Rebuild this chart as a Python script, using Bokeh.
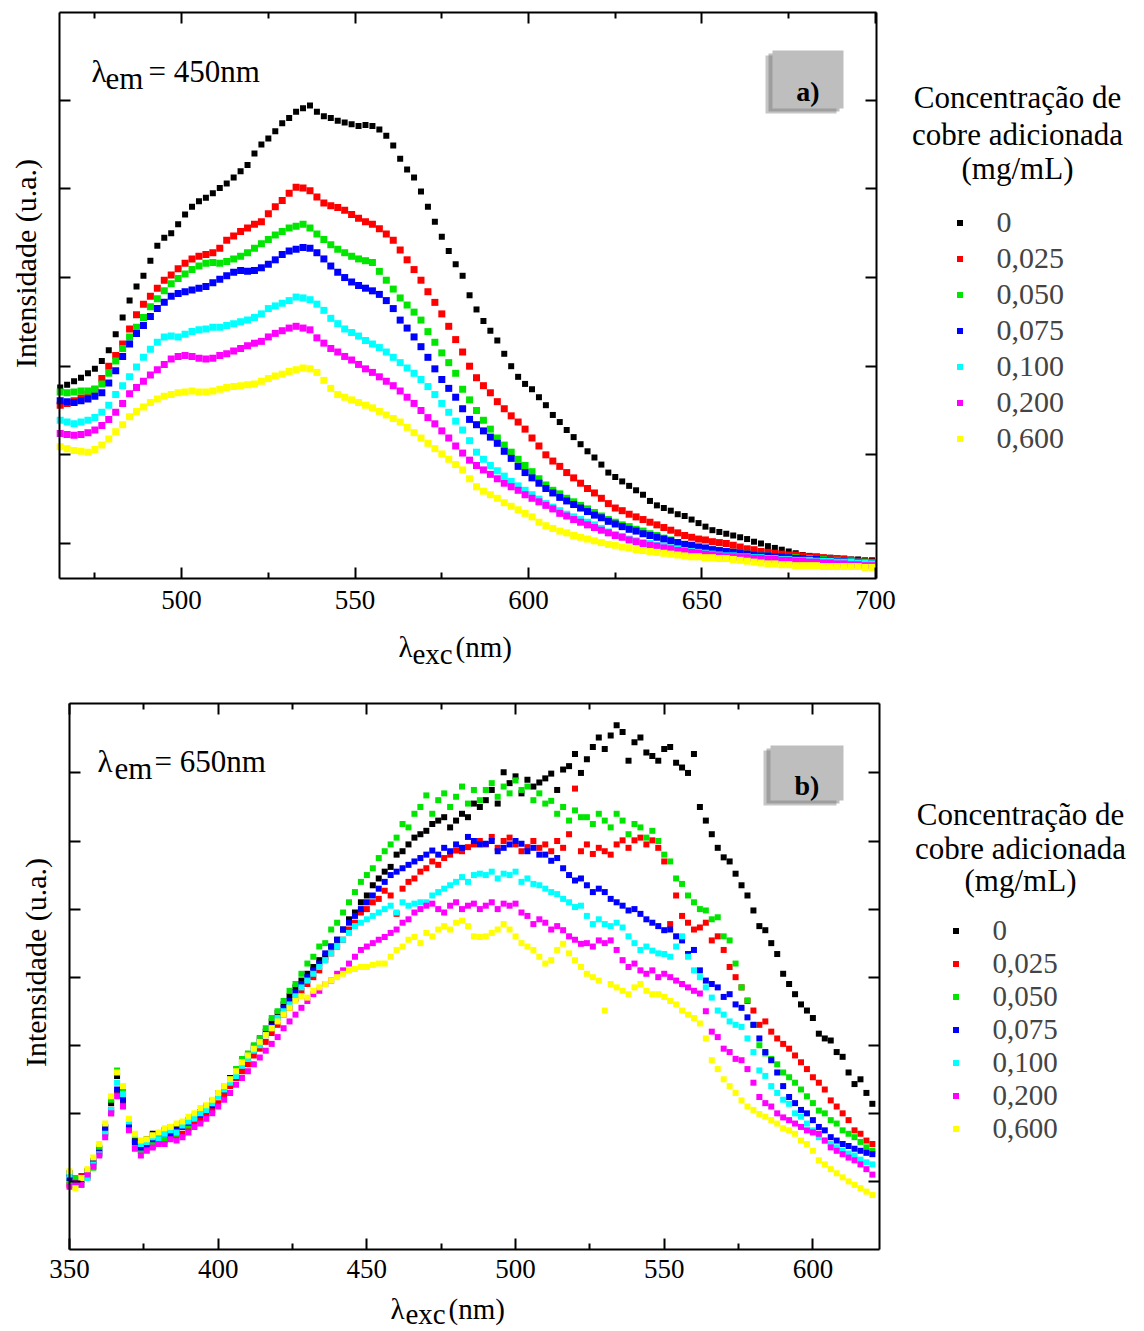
from bokeh.plotting import figure
from bokeh.models import Range1d, LinearAxis, FixedTicker, Label, BoxAnnotation, Legend, LegendItem
from bokeh.layouts import column
from bokeh.embed import file_html
from bokeh.resources import INLINE

FONT = "Liberation Serif"

SERIES_LABELS = ["0", "0,025", "0,050", "0,075", "0,100", "0,200", "0,600"]
COLORS = ["#000000", "#ff0000", "#00e600", "#0000ff", "#00ffff", "#ff00ff", "#ffff00"]

# ---------------- Panel a: lambda_em = 450 nm ----------------
WL_A = list(range(465, 700, 2))
A_0 = [1.76,1.79,1.83,1.87,1.92,1.97,2.06,2.18,2.36,2.55,
       2.74,2.90,3.02,3.19,3.36,3.45,3.50,3.60,3.71,3.80,
       3.86,3.90,3.95,4.01,4.06,4.13,4.20,4.27,4.40,4.50,
       4.57,4.65,4.74,4.80,4.87,4.91,4.94,4.87,4.82,4.80,
       4.77,4.75,4.73,4.71,4.72,4.71,4.67,4.60,4.49,4.34,
       4.22,4.13,3.97,3.80,3.63,3.46,3.30,3.15,3.02,2.80,
       2.64,2.51,2.40,2.29,2.14,2.00,1.88,1.80,1.74,1.65,
       1.56,1.45,1.37,1.28,1.20,1.12,1.04,0.97,0.89,0.80,
       0.75,0.70,0.65,0.60,0.55,0.48,0.43,0.40,0.37,0.33,
       0.31,0.27,0.23,0.19,0.15,0.13,0.11,0.09,0.07,0.05,
       0.02,0.00,-0.03,-0.05,-0.07,-0.09,-0.11,-0.13,-0.14,-0.15,
       -0.16,-0.16,-0.17,-0.17,-0.18,-0.18,-0.19,-0.19]
A_025 = [1.56,1.58,1.61,1.64,1.68,1.74,1.86,2.00,2.12,2.25,
         2.42,2.58,2.70,2.79,2.88,2.97,3.03,3.10,3.16,3.21,
         3.24,3.26,3.28,3.33,3.42,3.47,3.52,3.56,3.60,3.63,
         3.72,3.80,3.87,3.95,4.02,4.01,3.98,3.91,3.84,3.81,
         3.79,3.76,3.71,3.67,3.63,3.60,3.55,3.49,3.42,3.31,
         3.20,3.09,2.97,2.84,2.72,2.59,2.45,2.30,2.16,2.00,
         1.87,1.78,1.70,1.60,1.52,1.44,1.37,1.29,1.19,1.10,
         1.00,0.93,0.87,0.80,0.74,0.68,0.62,0.57,0.51,0.45,
         0.40,0.37,0.33,0.30,0.27,0.24,0.21,0.18,0.15,0.12,
         0.09,0.07,0.05,0.04,0.02,0.01,0.00,-0.02,-0.04,-0.06,
         -0.07,-0.09,-0.10,-0.11,-0.12,-0.13,-0.13,-0.14,-0.15,-0.15,
         -0.16,-0.17,-0.17,-0.18,-0.19,-0.20,-0.21,-0.21]
A_050 = [1.71,1.70,1.71,1.72,1.72,1.74,1.80,1.92,2.06,2.20,
         2.33,2.44,2.55,2.67,2.76,2.85,2.93,2.99,3.04,3.09,
         3.13,3.16,3.17,3.16,3.18,3.21,3.24,3.28,3.33,3.38,
         3.43,3.48,3.52,3.56,3.58,3.60,3.56,3.49,3.43,3.37,
         3.32,3.28,3.24,3.21,3.19,3.17,3.07,2.97,2.87,2.77,
         2.69,2.61,2.52,2.39,2.27,2.15,2.04,1.92,1.74,1.62,
         1.50,1.39,1.29,1.19,1.11,1.03,0.95,0.88,0.81,0.73,
         0.66,0.60,0.56,0.51,0.47,0.43,0.39,0.35,0.31,0.27,
         0.24,0.21,0.19,0.16,0.14,0.11,0.09,0.06,0.04,0.01,
         -0.01,-0.03,-0.04,-0.06,-0.07,-0.08,-0.09,-0.10,-0.11,-0.12,
         -0.13,-0.14,-0.14,-0.15,-0.15,-0.16,-0.16,-0.17,-0.17,-0.18,
         -0.18,-0.19,-0.19,-0.20,-0.20,-0.21,-0.21,-0.22]
A_075 = [1.61,1.60,1.59,1.61,1.63,1.66,1.70,1.81,1.95,2.11,
         2.25,2.37,2.46,2.56,2.65,2.72,2.79,2.82,2.84,2.86,
         2.88,2.90,2.94,2.98,3.02,3.06,3.08,3.07,3.08,3.11,
         3.15,3.20,3.26,3.30,3.32,3.34,3.33,3.28,3.21,3.13,
         3.06,3.00,2.95,2.91,2.88,2.85,2.81,2.74,2.65,2.52,
         2.43,2.33,2.22,2.10,1.97,1.85,1.75,1.65,1.52,1.40,
         1.34,1.27,1.20,1.13,1.04,0.96,0.87,0.80,0.74,0.68,
         0.62,0.57,0.52,0.48,0.44,0.40,0.36,0.32,0.29,0.25,
         0.22,0.19,0.16,0.14,0.11,0.09,0.07,0.05,0.03,0.01,
         -0.01,-0.02,-0.04,-0.05,-0.07,-0.08,-0.09,-0.10,-0.11,-0.12,
         -0.13,-0.14,-0.14,-0.15,-0.15,-0.16,-0.17,-0.17,-0.18,-0.18,
         -0.19,-0.19,-0.20,-0.20,-0.21,-0.21,-0.22,-0.23]
A_100 = [1.39,1.37,1.35,1.37,1.39,1.42,1.48,1.56,1.68,1.78,
         1.88,1.99,2.10,2.19,2.27,2.33,2.34,2.33,2.36,2.39,
         2.41,2.42,2.44,2.44,2.46,2.48,2.50,2.52,2.55,2.59,
         2.65,2.68,2.71,2.74,2.78,2.77,2.75,2.70,2.63,2.54,
         2.48,2.42,2.38,2.34,2.29,2.25,2.21,2.16,2.10,2.04,
         1.98,1.92,1.85,1.77,1.68,1.58,1.48,1.38,1.28,1.16,
         1.03,0.95,0.88,0.82,0.76,0.70,0.65,0.60,0.55,0.50,
         0.45,0.41,0.37,0.33,0.30,0.27,0.24,0.21,0.17,0.13,
         0.10,0.08,0.05,0.03,0.01,0.00,-0.02,-0.03,-0.05,-0.06,
         -0.08,-0.09,-0.10,-0.11,-0.12,-0.13,-0.14,-0.14,-0.15,-0.15,
         -0.16,-0.16,-0.17,-0.17,-0.18,-0.18,-0.19,-0.19,-0.19,-0.20,
         -0.20,-0.20,-0.21,-0.21,-0.21,-0.22,-0.22,-0.23]
A_200 = [1.24,1.23,1.22,1.23,1.25,1.28,1.33,1.40,1.48,1.58,
         1.69,1.76,1.83,1.90,1.96,2.02,2.08,2.11,2.12,2.11,
         2.09,2.08,2.09,2.12,2.14,2.17,2.20,2.23,2.26,2.28,
         2.33,2.37,2.40,2.43,2.45,2.43,2.41,2.32,2.26,2.20,
         2.16,2.11,2.07,2.02,1.97,1.93,1.88,1.83,1.78,1.72,
         1.65,1.58,1.50,1.42,1.35,1.27,1.19,1.10,1.02,0.94,
         0.88,0.83,0.78,0.73,0.68,0.64,0.60,0.55,0.51,0.47,
         0.43,0.39,0.34,0.31,0.27,0.24,0.21,0.18,0.15,0.12,
         0.09,0.07,0.04,0.02,0.00,-0.02,-0.03,-0.05,-0.06,-0.08,
         -0.09,-0.10,-0.11,-0.12,-0.13,-0.14,-0.15,-0.15,-0.16,-0.16,
         -0.17,-0.17,-0.18,-0.18,-0.19,-0.19,-0.20,-0.20,-0.21,-0.21,
         -0.22,-0.22,-0.23,-0.23,-0.24,-0.24,-0.25,-0.25]
A_600 = [1.09,1.07,1.05,1.04,1.03,1.06,1.11,1.18,1.26,1.34,
         1.43,1.49,1.54,1.59,1.63,1.66,1.68,1.70,1.71,1.72,
         1.71,1.71,1.72,1.74,1.76,1.77,1.78,1.79,1.80,1.83,
         1.86,1.89,1.91,1.94,1.96,1.98,1.97,1.93,1.84,1.75,
         1.68,1.65,1.62,1.59,1.56,1.53,1.49,1.45,1.41,1.37,
         1.31,1.25,1.19,1.13,1.07,1.01,0.95,0.89,0.83,0.73,
         0.64,0.59,0.55,0.51,0.46,0.42,0.38,0.34,0.30,0.24,
         0.20,0.17,0.14,0.12,0.09,0.07,0.05,0.03,0.01,-0.01,
         -0.02,-0.04,-0.05,-0.07,-0.08,-0.09,-0.10,-0.11,-0.12,-0.13,
         -0.14,-0.15,-0.15,-0.16,-0.16,-0.17,-0.17,-0.18,-0.19,-0.20,
         -0.21,-0.22,-0.23,-0.23,-0.24,-0.24,-0.25,-0.25,-0.25,-0.25,
         -0.26,-0.26,-0.26,-0.26,-0.26,-0.26,-0.27,-0.27]
SERIES_A = [A_0, A_025, A_050, A_075, A_100, A_200, A_600]

# ---------------- Panel b: lambda_em = 650 nm ----------------
WL_B = list(range(350, 621, 2))
B_0 = [0.12,0.02,0.05,0.15,0.30,0.48,0.80,1.15,1.55,1.30,
       0.90,0.60,0.55,0.62,0.70,0.68,0.75,0.72,0.80,0.85,
       0.90,0.95,1.02,1.10,1.18,1.30,1.38,1.52,1.62,1.78,
       1.85,1.98,2.10,2.20,2.35,2.48,2.60,2.72,2.85,2.95,
       3.05,3.15,3.25,3.30,3.45,3.55,3.70,3.85,3.95,4.10,
       4.20,4.35,4.45,4.55,4.62,4.80,4.85,4.95,5.05,5.10,
       5.15,5.25,5.30,5.35,5.20,5.30,5.40,5.35,5.55,5.50,
       5.60,5.75,5.55,6.01,5.85,5.95,5.70,5.90,5.80,5.86,
       5.92,5.99,5.75,6.05,6.10,6.28,6.00,6.20,6.38,6.52,
       6.35,6.55,6.70,6.60,6.18,6.45,6.52,6.30,6.25,6.18,
       6.35,6.38,6.15,6.08,6.00,6.28,5.50,5.30,5.10,4.90,
       4.76,4.70,4.52,4.35,4.20,3.98,3.75,3.69,3.50,3.34,
       3.05,2.90,2.75,2.60,2.51,2.40,2.17,2.10,2.07,1.90,
       1.83,1.60,1.43,1.50,1.30,1.14]
B_025 = [-0.05,0.00,0.08,0.05,0.22,0.40,0.72,1.00,1.30,1.15,
         0.78,0.50,0.45,0.50,0.52,0.58,0.60,0.65,0.68,0.70,
         0.78,0.85,0.90,1.00,1.05,1.15,1.28,1.40,1.52,1.62,
         1.72,1.85,1.95,2.05,2.18,2.30,2.45,2.55,2.68,2.80,
         2.90,3.00,3.10,3.25,3.35,3.45,3.55,3.70,3.80,3.95,
         4.00,4.10,4.15,4.27,4.20,3.93,4.30,4.40,4.45,4.55,
         4.60,4.70,4.65,4.75,4.80,4.86,4.85,4.91,4.95,5.00,
         4.95,5.06,4.90,5.00,5.05,4.95,4.85,4.91,5.00,4.90,
         4.95,4.85,5.00,4.90,5.10,5.77,4.85,4.95,4.81,4.90,
         4.85,4.80,4.95,5.01,4.90,5.01,5.05,4.95,5.01,4.90,
         4.70,3.78,4.20,3.90,3.80,3.70,3.73,3.80,3.54,3.60,
         3.40,3.15,3.00,2.85,2.65,2.51,2.30,2.35,2.20,2.10,
         2.02,1.95,1.85,1.75,1.65,1.53,1.45,1.35,1.19,1.10,
         1.00,0.90,0.75,0.70,0.60,0.55]
B_050 = [0.00,0.05,-0.05,0.12,0.20,0.50,0.70,1.20,1.63,1.35,
         0.80,0.55,0.45,0.60,0.55,0.70,0.62,0.80,0.70,0.85,
         0.82,0.95,1.00,1.10,1.15,1.28,1.40,1.50,1.65,1.80,
         1.88,2.00,2.10,2.25,2.40,2.50,2.65,2.80,2.90,3.05,
         3.20,3.30,3.45,3.50,3.70,3.80,3.95,4.10,4.25,4.40,
         4.50,4.60,4.75,4.85,4.95,5.05,5.25,5.20,5.40,5.50,
         5.67,5.40,5.60,5.70,5.50,5.65,5.80,5.55,5.75,5.60,
         5.75,5.85,5.65,5.80,5.70,5.89,5.75,5.80,5.60,5.70,
         5.55,5.59,5.40,5.50,5.30,5.45,5.35,5.35,5.25,5.40,
         5.30,5.20,5.40,5.30,5.10,5.25,5.20,5.05,5.15,5.00,
         4.80,4.70,4.45,4.37,4.20,4.10,4.00,3.98,3.85,3.88,
         3.60,3.54,3.20,2.85,2.66,2.30,2.00,1.88,1.80,1.72,
         1.60,1.53,1.45,1.35,1.25,1.15,1.04,1.00,0.90,0.85,
         0.75,0.70,0.65,0.58,0.50,0.45]
B_075 = [0.05,-0.05,0.02,0.08,0.28,0.42,0.78,1.05,1.35,1.20,
         0.82,0.58,0.50,0.55,0.62,0.60,0.70,0.68,0.75,0.80,
         0.86,0.92,0.98,1.08,1.12,1.25,1.35,1.48,1.60,1.72,
         1.82,1.92,2.05,2.15,2.28,2.40,2.55,2.65,2.78,2.90,
         3.00,3.10,3.20,3.35,3.45,3.55,3.70,3.80,3.90,4.00,
         4.10,4.20,4.30,4.40,4.50,4.55,4.60,4.65,4.70,4.75,
         4.80,4.86,4.80,4.90,4.85,4.95,4.90,5.06,5.00,4.95,
         4.96,5.00,4.85,4.90,4.95,5.00,4.96,4.85,4.90,4.80,
         4.80,4.71,4.75,4.60,4.50,4.42,4.45,4.35,4.25,4.30,
         4.25,4.15,4.10,4.05,3.98,4.00,3.93,3.85,3.80,3.75,
         3.69,3.70,3.60,3.54,3.34,3.40,3.10,2.95,2.90,2.85,
         2.71,2.75,2.60,2.55,2.41,2.30,2.10,1.90,1.78,1.60,
         1.40,1.24,1.15,1.05,1.00,0.90,0.80,0.75,0.65,0.60,
         0.55,0.52,0.48,0.45,0.42,0.40]
B_100 = [0.10,-0.05,0.05,0.05,0.25,0.40,0.70,1.05,1.45,1.28,
         0.88,0.68,0.55,0.58,0.65,0.62,0.70,0.75,0.72,0.82,
         0.88,0.92,1.00,1.05,1.15,1.25,1.35,1.45,1.55,1.70,
         1.80,1.92,2.00,2.15,2.25,2.40,2.50,2.60,2.72,2.85,
         2.95,3.05,3.15,3.25,3.35,3.45,3.55,3.65,3.75,3.80,
         3.85,3.90,3.95,4.00,4.05,3.95,4.10,4.05,4.08,4.10,
         4.10,4.20,4.25,4.30,4.35,4.40,4.47,4.40,4.50,4.52,
         4.50,4.55,4.45,4.52,4.50,4.55,4.40,4.45,4.37,4.35,
         4.30,4.25,4.22,4.15,4.10,4.03,4.05,3.90,3.78,3.85,
         3.78,3.75,3.80,3.73,3.60,3.50,3.40,3.45,3.39,3.35,
         3.34,3.30,3.45,3.60,3.30,3.10,3.00,2.85,2.70,2.51,
         2.45,2.35,2.30,2.27,2.10,1.90,1.63,1.55,1.40,1.30,
         1.20,1.14,1.00,0.95,0.85,0.75,0.65,0.60,0.55,0.50,
         0.45,0.41,0.38,0.32,0.28,0.25]
B_200 = [-0.08,-0.02,-0.05,0.10,0.22,0.38,0.65,1.00,1.25,1.10,
         0.75,0.48,0.38,0.45,0.50,0.55,0.55,0.62,0.60,0.65,
         0.72,0.80,0.85,0.92,1.00,1.10,1.20,1.30,1.42,1.52,
         1.62,1.72,1.82,1.92,2.02,2.12,2.25,2.35,2.45,2.55,
         2.65,2.75,2.80,2.90,2.95,3.05,3.10,3.20,3.30,3.40,
         3.45,3.50,3.55,3.59,3.65,3.70,3.80,3.85,3.95,4.00,
         4.05,4.08,4.00,3.95,4.05,4.10,4.00,4.05,4.08,4.00,
         4.05,4.10,4.00,4.08,4.05,4.08,3.95,3.90,3.78,3.85,
         3.80,3.70,3.75,3.69,3.60,3.55,3.49,3.50,3.45,3.54,
         3.50,3.54,3.40,3.25,3.15,3.20,3.10,3.05,3.10,3.00,
         3.05,3.00,2.95,2.90,2.85,2.80,2.76,2.50,2.20,2.12,
         1.95,1.90,1.80,1.78,1.65,1.45,1.24,1.15,1.10,1.00,
         0.94,0.90,0.85,0.80,0.75,0.72,0.70,0.60,0.50,0.45,
         0.40,0.35,0.31,0.25,0.18,0.10]
B_600 = [0.15,-0.10,0.05,0.18,0.35,0.55,0.85,1.25,1.60,1.40,
         0.92,0.70,0.60,0.62,0.68,0.72,0.78,0.80,0.85,0.88,
         0.95,1.00,1.08,1.12,1.20,1.30,1.40,1.50,1.62,1.75,
         1.85,1.95,2.05,2.15,2.25,2.35,2.45,2.55,2.65,2.72,
         2.70,2.80,2.85,2.90,2.95,3.00,3.05,3.10,3.12,3.15,
         3.15,3.18,3.20,3.20,3.30,3.40,3.45,3.55,3.59,3.50,
         3.65,3.60,3.70,3.75,3.70,3.80,3.83,3.75,3.60,3.59,
         3.60,3.65,3.70,3.78,3.70,3.60,3.50,3.45,3.40,3.30,
         3.20,3.25,3.40,3.49,3.35,3.25,3.15,3.05,3.00,2.95,
         2.51,2.90,2.85,2.80,2.75,2.85,2.90,2.80,2.75,2.75,
         2.71,2.65,2.60,2.51,2.45,2.40,2.32,2.10,1.78,1.65,
         1.50,1.40,1.30,1.19,1.10,1.05,0.99,0.95,0.90,0.85,
         0.78,0.75,0.70,0.60,0.55,0.45,0.31,0.25,0.18,0.12,
         0.06,0.00,-0.05,-0.10,-0.15,-0.20]
SERIES_B = [B_0, B_025, B_050, B_075, B_100, B_200, B_600]

X_TICKS_A = [500, 550, 600, 650, 700]
X_MINOR_A = [475, 525, 575, 625, 675]
Y_TICKS_A = [0, 1, 2, 3, 4, 5]
X_TICKS_B = [350, 400, 450, 500, 550, 600]
X_MINOR_B = [375, 425, 475, 525, 575]
Y_TICKS_B = [0, 1, 2, 3, 4, 5, 6]

PAGE_W = 1144
HA = 678
HB = 1331 - HA

# panel geometry in page pixels: data box edges and where they sit on the page
A = dict(x0=464.8, x1=700.3, y0=-0.395, y1=5.99, left=59, top=12, fw=817, fh=566, page_top=0, h=HA)
B = dict(x0=350.0, x1=622.4, y0=-1.0, y1=7.02, left=69, top=703, fw=810, fh=546, page_top=HA, h=HB)


def dx(g, px):
    return g["x0"] + (px - g["left"]) * (g["x1"] - g["x0"]) / g["fw"]


def dy(g, py):
    return g["y1"] - (py - g["top"]) * (g["y1"] - g["y0"]) / g["fh"]


def style_axis(ax, labels, standoff=0):
    ax.axis_line_width = 2
    ax.axis_line_color = "black"
    ax.major_tick_in = 11
    ax.major_tick_out = 0
    ax.minor_tick_in = 6
    ax.minor_tick_out = 0
    ax.major_tick_line_width = 2
    ax.minor_tick_line_width = 2
    ax.major_tick_line_color = "black"
    ax.minor_tick_line_color = "black"
    ax.major_label_text_font = FONT
    ax.major_label_text_font_size = "27px"
    ax.major_label_standoff = standoff
    if labels:
        ax.major_label_text_color = "black"
    else:
        ax.major_label_text_color = None


def make_panel(g, xt, xm, yt, series, wl, std, sizes):
    xr = Range1d(dx(g, 0), dx(g, PAGE_W))
    yr = Range1d(dy(g, g["page_top"] + g["h"]), dy(g, g["page_top"]))
    p = figure(x_range=xr, y_range=yr, width=PAGE_W, height=g["h"], min_border=0,
               output_backend="svg", toolbar_location=None,
               x_axis_location=None, y_axis_location=None)
    p.grid.visible = False
    p.outline_line_color = None
    p.background_fill_color = "white"
    p.border_fill_color = "white"
    xtk = FixedTicker(ticks=xt, minor_ticks=xm)
    ytk = FixedTicker(ticks=yt, minor_ticks=[])
    b = LinearAxis(ticker=xtk, fixed_location=g["y0"], bounds=(g["x0"], g["x1"]))
    style_axis(b, True, std)
    t = LinearAxis(ticker=xtk, fixed_location=g["y1"], bounds=(g["x0"], g["x1"]))
    style_axis(t, False)
    l = LinearAxis(ticker=ytk, fixed_location=g["x0"], bounds=(g["y0"], g["y1"]))
    style_axis(l, False)
    r = LinearAxis(ticker=ytk, fixed_location=g["x1"], bounds=(g["y0"], g["y1"]))
    style_axis(r, False)
    p.add_layout(b, "below")
    p.add_layout(t, "above")
    p.add_layout(l, "left")
    p.add_layout(r, "right")
    rends = []
    for vals, col, sz in zip(series, COLORS, sizes):
        rr = p.scatter(wl, vals, marker="square", size=sz, color=col, line_width=0)
        rends.append(rr)
    return p, rends


def add_text(p, g, px, py, text, size="29px", align="left", baseline="alphabetic",
             angle=0, style="normal"):
    p.add_layout(Label(x=dx(g, px), y=dy(g, py), text=text, text_font=FONT,
                       text_font_size=size, text_align=align, text_baseline=baseline,
                       angle=angle, angle_units="deg", text_font_style=style,
                       text_color="black"))


def add_tag(p, g, x0, x1, y0, y1, tag, base):
    p.add_layout(BoxAnnotation(left=dx(g, x0 - 7), right=dx(g, x1 - 7),
                               top=dy(g, y0 + 5), bottom=dy(g, y1 + 5),
                               fill_color="#5a5a5a", fill_alpha=0.35, line_color=None))
    p.add_layout(BoxAnnotation(left=dx(g, x0 - 4), right=dx(g, x1 - 4),
                               top=dy(g, y0 + 3), bottom=dy(g, y1 + 3),
                               fill_color="#6e6e6e", fill_alpha=0.45, line_color=None))
    p.add_layout(BoxAnnotation(left=dx(g, x0), right=dx(g, x1),
                               top=dy(g, y0), bottom=dy(g, y1),
                               fill_color="#bebebe", fill_alpha=1.0, line_color=None))
    add_text(p, g, (x0 + x1) / 2, base, tag, size="28px", align="center", style="bold")


def add_legend(p, g, rends, marker_x, text_x, first_row_y, pitch, size):
    items = [LegendItem(label=lab, renderers=[r]) for lab, r in zip(SERIES_LABELS, rends)]
    gw = 15
    top_px = first_row_y - pitch / 2 - g["page_top"]
    bottom_px = top_px + pitch * len(items)
    leg = Legend(items=items,
                 location=(marker_x - gw / 2, g["h"] - bottom_px),
                 glyph_width=gw, glyph_height=gw, label_height=pitch, spacing=0,
                 padding=0, margin=0, label_standoff=int(round(text_x - (marker_x + gw / 2))),
                 label_text_font=FONT, label_text_font_size=size, label_text_baseline="middle",
                 border_line_color=None, background_fill_alpha=0)
    p.add_layout(leg, "center")


# ---------------- build panel a ----------------
pa, ra = make_panel(A, X_TICKS_A, X_MINOR_A, Y_TICKS_A, SERIES_A, WL_A, 12,
                    [6, 7, 7, 7, 7, 7, 7])
add_text(pa, A, 91, 71, "λ", size="31px")
add_text(pa, A, 105, 78, "em", size="31px")
add_text(pa, A, 148, 71, "= 450nm", size="31px")
add_text(pa, A, 398, 646, "λ")
add_text(pa, A, 412, 653, "exc")
add_text(pa, A, 455, 646, "(nm)")
add_text(pa, A, 25, 263, "Intensidade (u.a.)", size="30px", align="center", baseline="middle", angle=90)
add_tag(pa, A, 772, 843, 50, 108, "a)", 91)
add_text(pa, A, 1017, 97, "Concentração de", size="31px", align="center")
add_text(pa, A, 1017, 134, "cobre adicionada", size="31px", align="center")
add_text(pa, A, 1017, 168, "(mg/mL)", size="31px", align="center")
add_legend(pa, A, ra, 959, 997, 222, 36, "30px")

# ---------------- build panel b ----------------
pb, rb = make_panel(B, X_TICKS_B, X_MINOR_B, Y_TICKS_B, SERIES_B, WL_B, 10,
                    [6, 6, 6, 6, 6, 6, 6])
add_text(pb, B, 97, 761, "λ", size="31px")
add_text(pb, B, 114, 768, "em", size="31px")
add_text(pb, B, 154, 761, "= 650nm", size="31px")
add_text(pb, B, 390, 1308, "λ")
add_text(pb, B, 405, 1313, "exc")
add_text(pb, B, 448, 1308, "(nm)")
add_text(pb, B, 35, 962, "Intensidade (u.a.)", size="30px", align="center", baseline="middle", angle=90)
add_tag(pb, B, 770, 843, 745, 800, "b)", 785)
add_text(pb, B, 1020, 814, "Concentração de", size="31px", align="center")
add_text(pb, B, 1020, 848, "cobre adicionada", size="31px", align="center")
add_text(pb, B, 1020, 880, "(mg/mL)", size="31px", align="center")
add_legend(pb, B, rb, 955, 993, 930, 33, "29px")

layout = column(pa, pb, spacing=0)
open("out.html", "w").write(file_html(layout, INLINE))
